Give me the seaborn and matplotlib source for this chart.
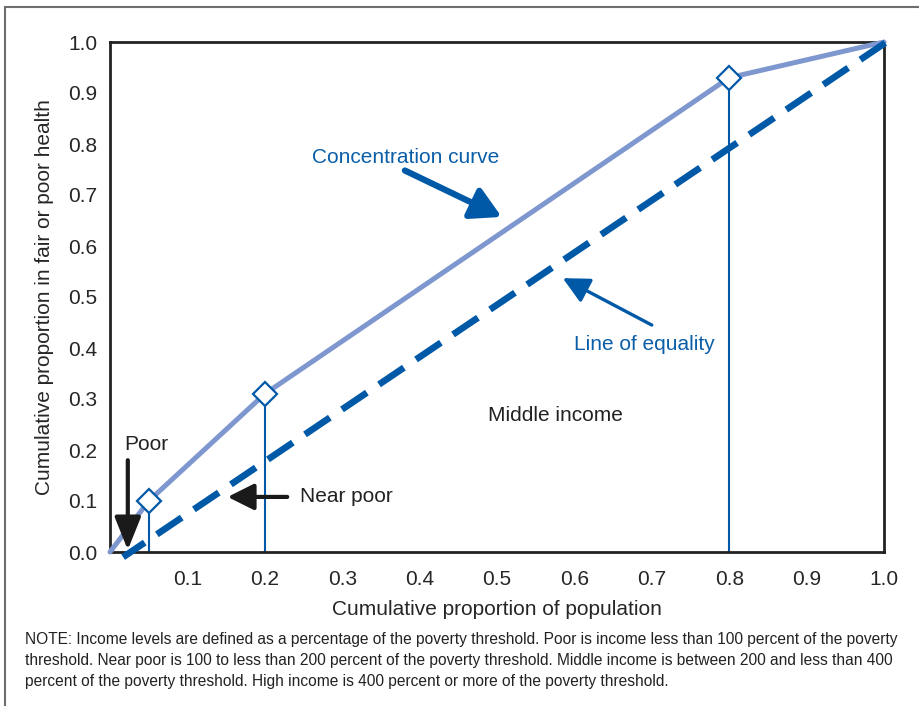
import numpy as np
import matplotlib
matplotlib.use("Agg")
import matplotlib.pyplot as plt
import matplotlib.patches as mpatches
import seaborn as sns
import pandas as pd

# cumulative population share at each income cut, and share in fair/poor health
pop_share = [0.0, 0.05, 0.2, 0.8, 1.0]
health_share = [0.0, 0.10, 0.31, 0.93, 1.0]
cut_groups = ["origin", "Poor", "Near poor", "Middle income", "High income"]

# line of equality (drawn slightly past the frame, as in the original)
equality_x = [0.017, 1.013]
equality_y = [-0.01, 1.01]

y_ticks = [0.0, 0.1, 0.2, 0.3, 0.4, 0.5, 0.6, 0.7, 0.8, 0.9, 1.0]
x_ticks = [0.1, 0.2, 0.3, 0.4, 0.5, 0.6, 0.7, 0.8, 0.9, 1.0]

NOTE = ("NOTE: Income levels are defined as a percentage of the poverty threshold. Poor is income less than 100 percent of the poverty\n"
        "threshold. Near poor is 100 to less than 200 percent of the poverty threshold. Middle income is between 200 and less than 400\n"
        "percent of the poverty threshold. High income is 400 percent or more of the poverty threshold.")

CURVE = "#7f97cf"
DARK_BLUE = "#0059a6"
TEXT_BLUE = "#0a5ea8"
FS = 15

sns.set_style("white")
plt.rcParams["font.family"] = ["Liberation Sans", "DejaVu Sans"]

df = pd.DataFrame({"pop": pop_share, "health": health_share, "group": cut_groups})

fig = plt.figure(figsize=(9.19, 7.06), dpi=100)
ax = fig.add_axes([110 / 919, 1 - 552 / 706, 774 / 919, 510 / 706])

# outer frame of the figure
fig.patches.append(mpatches.Rectangle((5 / 919, -0.1), 1.2, 1 - 7 / 706 + 0.1,
                                      transform=fig.transFigure, fill=False,
                                      edgecolor="#6e6e6e", lw=1.5))

# vertical guides at the income cut points
inner = df.iloc[1:4]
ax.vlines(inner["pop"], 0, inner["health"], color=DARK_BLUE, lw=1.5, zorder=2)

sns.lineplot(data=df, x="pop", y="health", color=CURVE, lw=3.6, ax=ax,
             zorder=3, clip_on=False)
ax.plot(inner["pop"], inner["health"], ls="none", marker="D", ms=12.5,
        mfc="white", mec=DARK_BLUE, mew=1.6, zorder=4)

ax.plot(equality_x, equality_y, color=DARK_BLUE, lw=4.8, ls=(0.6, (4.5, 2.2)),
        clip_on=False, zorder=3)

ax.set_xlim(0, 1)
ax.set_ylim(0, 1)
ax.set_yticks(y_ticks)
ax.set_yticklabels([f"{v:.1f}" for v in y_ticks])
ax.set_xticks(x_ticks)
ax.set_xticklabels([f"{v:.1f}" for v in x_ticks])
ax.tick_params(axis="y", direction="in", length=6, width=1.5, color="#222222",
               labelsize=FS, pad=9)
ax.tick_params(axis="x", length=0, labelsize=FS, pad=13)
for s in ax.spines.values():
    s.set_color("#222222")
    s.set_linewidth(2)

ax.set_xlabel("Cumulative proportion of population", fontsize=FS, labelpad=8)
ax.set_ylabel("Cumulative proportion in fair or poor health", fontsize=FS, labelpad=10)

# annotations
ax.text(0.3824, 0.7745, "Concentration curve", color=TEXT_BLUE, fontsize=FS,
        ha="center", va="center")
ax.annotate("", xy=(0.506, 0.657), xytext=(0.381, 0.748),
            arrowprops=dict(arrowstyle="-|>,head_length=0.9,head_width=0.5",
                            lw=4.5, color=DARK_BLUE, mutation_scale=20,
                            shrinkA=0, shrinkB=0))

ax.text(0.691, 0.406, "Line of equality", color=TEXT_BLUE, fontsize=FS,
        ha="center", va="center")
ax.annotate("", xy=(0.585, 0.537), xytext=(0.700, 0.445),
            arrowprops=dict(arrowstyle="-|>,head_length=0.8,head_width=0.4",
                            lw=2.4, color=DARK_BLUE, mutation_scale=20,
                            shrinkA=0, shrinkB=0))

ax.text(0.575, 0.267, "Middle income", color="#222222", fontsize=FS,
        ha="center", va="center")

ax.text(0.047, 0.21, "Poor", color="#222222", fontsize=FS, ha="center", va="center")
ax.annotate("", xy=(0.023, 0.004), xytext=(0.023, 0.18),
            arrowprops=dict(arrowstyle="-|>,head_length=1.0,head_width=0.4",
                            lw=3, color="#1a1a1a", mutation_scale=20,
                            shrinkA=0, shrinkB=0), annotation_clip=False)

ax.text(0.245, 0.108, "Near poor", color="#222222", fontsize=FS,
        ha="left", va="center")
ax.annotate("", xy=(0.152, 0.108), xytext=(0.229, 0.108),
            arrowprops=dict(arrowstyle="-|>,head_length=0.8,head_width=0.4",
                            lw=3, color="#1a1a1a", mutation_scale=20,
                            shrinkA=0, shrinkB=0))

fig.text(25 / 919, 1 - 632 / 706, NOTE, fontsize=11.2, color="#222222",
         ha="left", va="top", linespacing=1.5)

fig.savefig("out.png", dpi=100)
